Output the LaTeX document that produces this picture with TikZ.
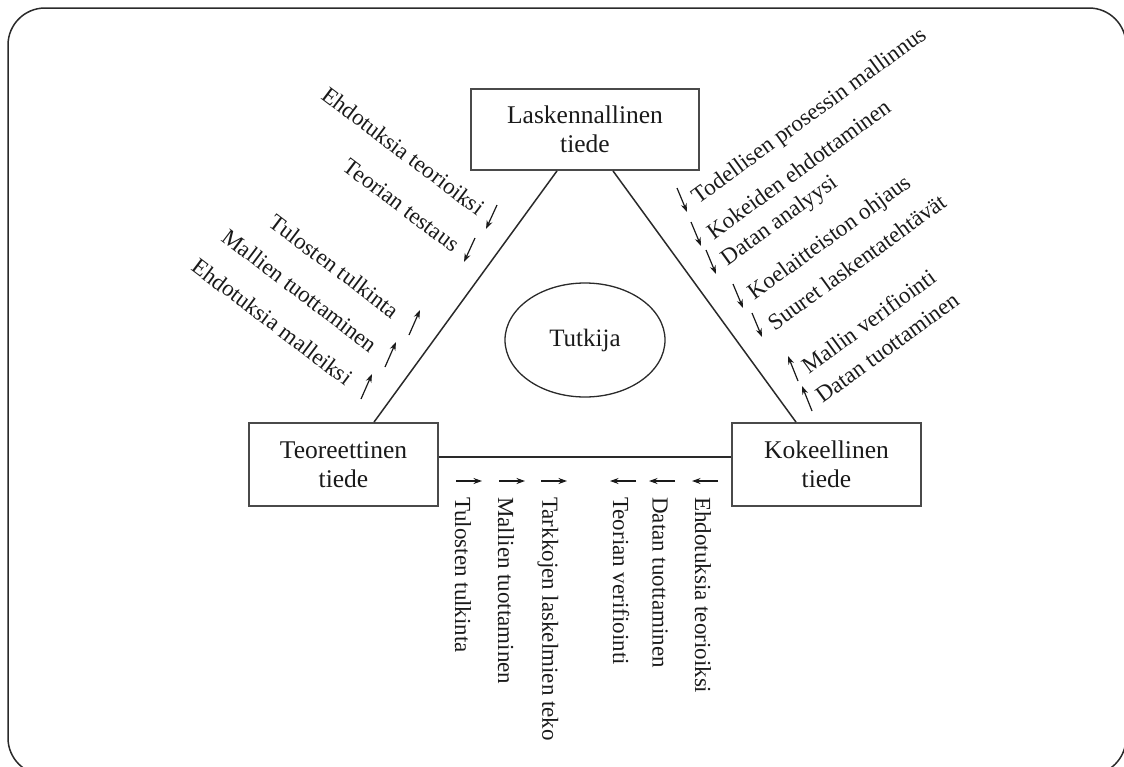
\documentclass[tikz,border=0pt]{standalone}
\usepackage{fontspec}
\setmainfont{Liberation Serif}
\usetikzlibrary{arrows.meta,calc,shapes.geometric}
\definecolor{ink}{HTML}{1A1A1A}
\definecolor{linec}{HTML}{2A2A2A}
\definecolor{boxc}{HTML}{4A4A4A}
\definecolor{framec}{HTML}{2A2A2A}
\begin{document}
\begin{tikzpicture}[x=1pt,y=-1pt,
  box/.style={draw=boxc, line width=1.8pt, align=center, text=ink,
    font=\fontsize{25.5}{29}\selectfont, inner sep=0pt},
  lab/.style={font=\fontsize{23}{26}\selectfont, inner sep=0pt, text=ink},
  arr/.style={-{Stealth[length=8.5pt,width=6pt]}, line width=1.2pt, draw=ink},
  conn/.style={draw=linec, line width=1.5pt}]
\useasboundingbox (0,0) rectangle (1124,766);
\begin{scope}
\clip (0,0) rectangle (1124,766);
\draw[draw=framec, line width=1.5pt, rounded corners=37pt] (8,8) rectangle (1126,775);
\end{scope}

% boxes
\node[box, minimum width=228pt, minimum height=81pt] (L) at (585,129.5) {Laskennallinen\\tiede};
\node[box, minimum width=189pt, minimum height=83pt] (T) at (343.5,464.5) {Teoreettinen\\tiede};
\node[box, minimum width=189pt, minimum height=83pt] (K) at (826.5,464.5) {Kokeellinen\\tiede};
\node[draw=linec, line width=1.3pt, ellipse, minimum width=160pt, minimum height=114pt, inner sep=0pt,
  font=\fontsize{25}{29}\selectfont, text=ink] (R) at (585,340) {Tutkija};

% connectors
\draw[conn] ([xshift=-28pt]L.south) -- ([xshift=30.5pt]T.north);
\draw[conn] ([xshift=28pt]L.south) -- ([xshift=-30.5pt]K.north);
\draw[conn] ([yshift=7.5pt]T.east) -- ([yshift=7.5pt]K.west);

% left labels
\node[lab, rotate=-37, anchor=east] (a1) at (482,210) {Ehdotuksia teorioiksi};
\node[lab, rotate=-37, anchor=east] (a2) at (457,247) {Teorian testaus};
\node[lab, rotate=-37, anchor=east] (a3) at (397,313) {Tulosten tulkinta};
\node[lab, rotate=-37, anchor=east] (a4) at (375,347) {Mallien tuottaminen};
\node[lab, rotate=-37, anchor=east] (a5) at (350,380) {Ehdotuksia malleiksi};
\draw[arr] ([shift={(15,-5)}]a1.east) -- ++(-11,24);
\draw[arr] ([shift={(18,-9)}]a2.east) -- ++(-11,24);
\draw[arr] ([shift={(12,22)}]a3.east) -- ++(11,-25);
\draw[arr] ([shift={(10,20)}]a4.east) -- ++(11,-25);
\draw[arr] ([shift={(11,19)}]a5.east) -- ++(11,-25);

% right labels
\node[lab, rotate=36, anchor=west] (b1) at (695,200) {Todellisen prosessin mallinnus};
\node[lab, rotate=36, anchor=west] (b2) at (709,234) {Kokeiden ehdottaminen};
\node[lab, rotate=36, anchor=west] (b3) at (724,262) {Datan analyysi};
\node[lab, rotate=36, anchor=west] (b4) at (751,296) {Koelaitteiston ohjaus};
\node[lab, rotate=36, anchor=west] (b5) at (770,325) {Suuret laskentatehtävät};
\node[lab, rotate=36, anchor=west] (b6) at (804,368) {Mallin verifiointi};
\node[lab, rotate=36, anchor=west] (b7) at (818,398) {Datan tuottaminen};
\draw[arr] ([shift={(-18,-12)}]b1.west) -- ++(10,24);
\draw[arr] ([shift={(-18,-12)}]b2.west) -- ++(10,24);
\draw[arr] ([shift={(-18,-12)}]b3.west) -- ++(10,24);
\draw[arr] ([shift={(-18,-12)}]b4.west) -- ++(10,24);
\draw[arr] ([shift={(-18,-12)}]b5.west) -- ++(10,24);
\draw[arr] ([shift={(-6,13)}]b6.west) -- ++(-10,-25);
\draw[arr] ([shift={(-6,13)}]b7.west) -- ++(-10,-25);

% bottom labels
\node[lab, rotate=-90, anchor=west] (c1) at (463,497) {Tulosten tulkinta};
\node[lab, rotate=-90, anchor=west] (c2) at (506,497) {Mallien tuottaminen};
\node[lab, rotate=-90, anchor=west] (c3) at (548,497) {Tarkkojen laskelmien teko};
\node[lab, rotate=-90, anchor=west] (c4) at (621,497) {Teorian verifiointi};
\node[lab, rotate=-90, anchor=west] (c5) at (660,497) {Datan tuottaminen};
\node[lab, rotate=-90, anchor=west] (c6) at (703,497) {Ehdotuksia teorioiksi};
\draw[arr] ([shift={(-7,-16)}]c1.west) -- ++(26,0);
\draw[arr] ([shift={(-7,-16)}]c2.west) -- ++(26,0);
\draw[arr] ([shift={(-7,-16)}]c3.west) -- ++(26,0);
\draw[arr] ([shift={(15,-16)}]c4.west) -- ++(-26,0);
\draw[arr] ([shift={(15,-16)}]c5.west) -- ++(-26,0);
\draw[arr] ([shift={(15,-16)}]c6.west) -- ++(-26,0);
\end{tikzpicture}
\end{document}
